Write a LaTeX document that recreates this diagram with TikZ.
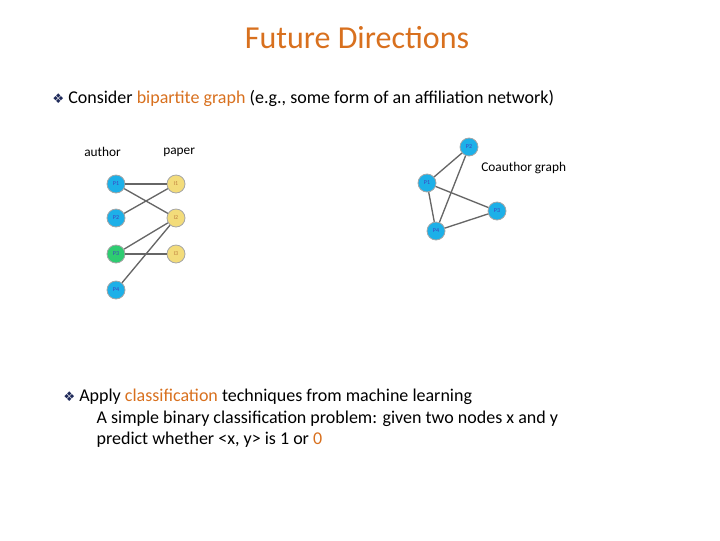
\documentclass[tikz,border=0pt]{standalone}
\usepackage{fontspec}
\setmainfont{Carlito}
\newfontfamily\dv{DejaVu Sans}
\definecolor{orng}{HTML}{D8701E}
\definecolor{bluen}{HTML}{1DB0E8}
\definecolor{greenn}{HTML}{2ECC71}
\definecolor{yelln}{HTML}{F3DC7A}
\definecolor{navy}{HTML}{1F2A5A}
\begin{document}
\begin{tikzpicture}[x=0.75pt,y=-0.75pt,
  vtx/.style={circle,draw=gray!70,line width=0.6pt,minimum size=13.5pt,inner sep=0pt,font=\fontsize{4.5}{4.5}\selectfont,text=blue!50!gray},
  au/.style={vtx,fill=bluen},
  pa/.style={vtx,fill=yelln,text=brown},
  gr/.style={vtx,fill=greenn},
  ed/.style={draw=gray!80!black,line width=1pt},
  txt/.style={anchor=west,inner sep=0pt,font=\fontsize{13.5}{16.2}\selectfont}]
\useasboundingbox (0,0) rectangle (720,540);
\node[font=\fontsize{24}{28}\selectfont,text=orng] (title) at (357,38) {Future Directions};
\node[txt] (b1) at (52,98) {{\dv\fontsize{10}{10}\selectfont\textcolor{navy}{❖}} Consider \textcolor{orng}{bipartite graph} (e.g., some form of an affiliation network)};
\node[txt,font=\fontsize{10}{12}\selectfont] (la) at (84,152) {author};
\node[txt,font=\fontsize{10}{12}\selectfont] (lp) at (163,152) {paper};
\node[txt,font=\fontsize{10}{12}\selectfont] (lc) at (481,168) {Coauthor graph};
\node[au] (p1) at (116,184) {P1};
\node[au] (p2) at (116,218) {P2};
\node[gr] (p3) at (116,254) {P3};
\node[au] (p4) at (116,290) {P4};
\node[pa] (i1) at (176,184) {I1};
\node[pa] (i2) at (176,218) {I2};
\node[pa] (i3) at (176,254) {I3};
\draw[ed] (p1)--(i1); \draw[ed] (p1)--(i2); \draw[ed] (p2)--(i1);
\draw[ed] (p3)--(i2); \draw[ed] (p3)--(i3); \draw[ed] (p4)--(i2);
\node[au] (c2) at (469,147) {P2};
\node[au] (c1) at (427,183) {P1};
\node[au] (c3) at (497,211) {P3};
\node[au] (c4) at (436,231) {P4};
\draw[ed] (c1)--(c2); \draw[ed] (c1)--(c3); \draw[ed] (c1)--(c4);
\draw[ed] (c2)--(c4); \draw[ed] (c4)--(c3);
\node[txt,align=left,anchor=north west] (b2) at (63,389) {{\dv\fontsize{10}{10}\selectfont\textcolor{navy}{❖}} Apply \textcolor{orng}{classification} techniques from machine learning\\
\hspace*{25pt}A simple binary classification problem: given two nodes x and y\\
\hspace*{25pt}predict whether {<}x, y{>} is 1 or \textcolor{orng}{0}};
\end{tikzpicture}
\end{document}
